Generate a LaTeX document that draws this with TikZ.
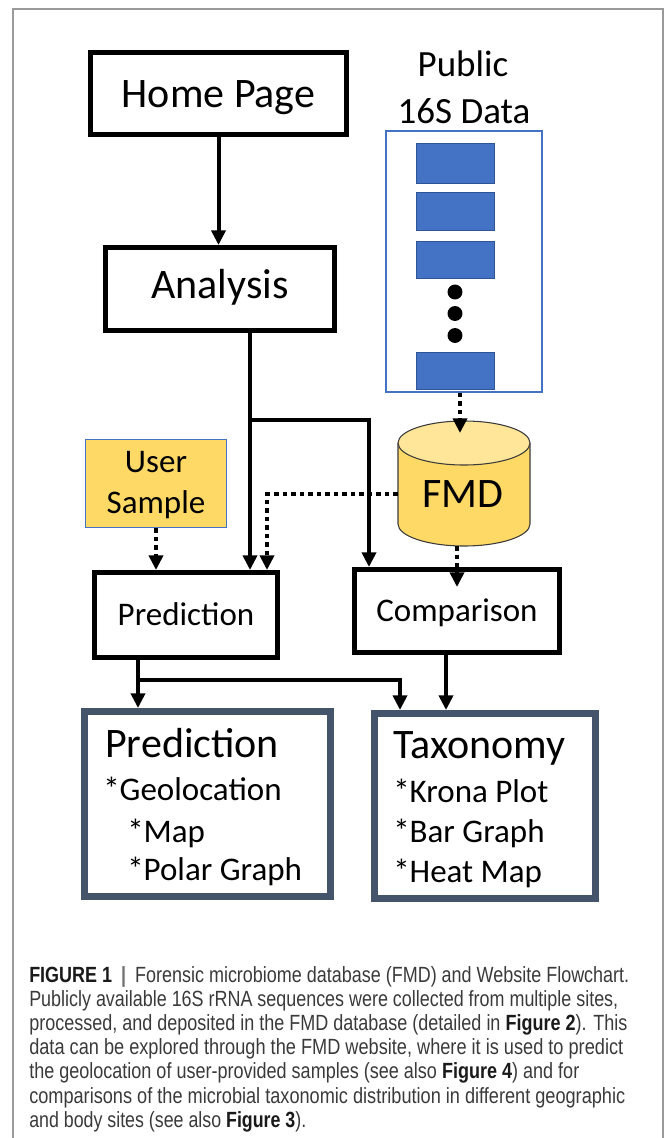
\documentclass[tikz,border=0pt]{standalone}
\usepackage{fontspec}
\setmainfont{Carlito}
\newfontfamily\capfont{Liberation Sans}
\usepackage{graphicx}
\usetikzlibrary{arrows.meta}
\definecolor{bluef}{HTML}{4472C4}
\definecolor{bluedk}{HTML}{2F5597}
\definecolor{yel}{HTML}{FFD966}
\definecolor{yellt}{HTML}{FFE699}
\definecolor{slate}{HTML}{44546A}
\definecolor{framegray}{HTML}{9A9A9A}
\definecolor{captxt}{HTML}{3A3A3A}
\definecolor{capbold}{HTML}{1A1A1A}
\definecolor{cylline}{HTML}{3B3B3B}
\tikzset{
  bigf/.style={font=\fontsize{31.5}{36}\selectfont},
  midf/.style={font=\fontsize{24.75}{30}\selectfont},
  blackbox/.style={draw=black, line width=3.75pt, inner sep=0pt, fill=white},
  slatebox/.style={draw=slate, line width=5.25pt, inner sep=0pt, fill=white},
  txt/.style={inner sep=0pt, anchor=base west, midf},
  arr/.style={line width=3pt, draw=black, -{Triangle[length=11pt,width=10.5pt]}},
  dotarr/.style={arr, dash pattern=on 3.4pt off 3pt},
  captionline/.style={inner sep=0pt, anchor=base west, text=captxt,
    font=\capfont\fontsize{16.5}{19}\selectfont},
  bluerect/.style={fill=bluef, draw=bluedk, line width=0.6pt},
  bigdot/.style={fill=black}
}
\newcommand{\fb}[1]{{\color{capbold}\bfseries #1}}
\begin{document}
\begin{tikzpicture}[x=0.75pt,y=-0.75pt]
\useasboundingbox (0,0) rectangle (669,1138);
% outer frame
\draw[framegray, line width=1.1pt] (13,1138) -- (13,9) -- (663,9) -- (663,1138);

% helper coordinates
\coordinate (X250) at (250,0);
\coordinate (X267) at (267,0);
\coordinate (X369) at (369,0);
\coordinate (X460) at (460,0);
\coordinate (X138) at (138,0);
\coordinate (X400) at (400,0);
\coordinate (X446) at (446,0);

% main boxes
\node[blackbox, bigf, minimum width=192pt, minimum height=61.5pt,
      text height=20.3pt, text depth=0pt] (home) at (218.5,93.5) {Home Page};
\node[blackbox, bigf, minimum width=171.75pt, minimum height=62.25pt,
      text height=20.3pt, text depth=6.75pt] (analysis) at (220,289) {Analysis};
\node[blackbox, midf, minimum width=137.25pt, minimum height=63.75pt,
      text height=15.9pt, text depth=0pt] (pred) at (186,615) {Prediction};
\node[blackbox, midf, minimum width=153.75pt, minimum height=62.25pt,
      text height=15.9pt, text depth=0pt] (comp) at (457,611) {Comparison};

% user sample
\node[draw=bluef, fill=yel, line width=1.1pt, minimum width=105.75pt,
      minimum height=66pt, inner sep=0pt] (user) at (156,483.5) {};
\node[midf, inner sep=0pt, anchor=base] (userT1) at (156,472) {User};
\node[midf, inner sep=0pt, anchor=base] (userT2) at (156,513) {Sample};

% public data
\node[font=\fontsize{27.75}{32}\selectfont, inner sep=0pt, anchor=base] (pubT1) at (463,77) {Public};
\node[font=\fontsize{27.75}{32}\selectfont, inner sep=0pt, anchor=base] (pubT2) at (464,123) {16S Data};
\node[draw=bluef, line width=1.1pt, minimum width=117pt, minimum height=195.75pt,
      inner sep=0pt] (pubbox) at (464,261.5) {};
\filldraw[bluerect] (416,143) rectangle (494,183);
\filldraw[bluerect] (416,192) rectangle (494,230);
\filldraw[bluerect] (416,241) rectangle (494,278);
\filldraw[bluerect] (416,352) rectangle (494,389);
\fill[bigdot] (455,292) circle[radius=5.6pt];
\fill[bigdot] (455,313.5) circle[radius=5.6pt];
\fill[bigdot] (455,335.5) circle[radius=5.6pt];

% FMD cylinder
\fill[yel] (398,443) -- (398,524) arc[start angle=180, end angle=360, x radius=49.5pt, y radius=16.5pt] -- (530,443) -- cycle;
\draw[cylline, line width=0.8pt] (398,443) -- (398,524) arc[start angle=180, end angle=360, x radius=49.5pt, y radius=16.5pt] -- (530,443);
\filldraw[fill=yellt, draw=cylline, line width=0.8pt] (464,443) ellipse[x radius=49.5pt, y radius=16.5pt];
\node[bigf, inner sep=0pt, text height=20.3pt, text depth=0pt] (fmd) at (463,493.5) {FMD};
\coordinate (fmdW) at (398,494);
\coordinate (fmdTop) at (460,433);
\coordinate (fmdBot) at (457,546);
\coordinate (compIn) at (457,587);

% result boxes
\node[slatebox, minimum width=184.5pt, minimum height=138.75pt] (predbig) at (207.5,804) {};
\node[slatebox, minimum width=165.75pt, minimum height=138.75pt] (taxo) at (485,806) {};
\node[txt, bigf] (pbT) at (105,757) {Prediction};
\node[txt] (pb1) at (103,800) {*Geolocation};
\node[txt] (pb2) at (127,842) {*Map};
\node[txt] (pb3) at (127,880) {*Polar Graph};
\node[txt, bigf] (txT) at (393,758) {Taxonomy};
\node[txt] (tx1) at (393,802) {*Krona Plot};
\node[txt] (tx2) at (393,842) {*Bar Graph};
\node[txt] (tx3) at (393,882) {*Heat Map};

% connectors
\draw[arr] (home.south) -- (home.south |- analysis.north);
\draw[arr] (analysis.south -| X250) -- (pred.north -| X250);
\coordinate (br1) at (250,420);
\draw[arr] (br1) -| (comp.north -| X369);
\draw[dotarr] (user.south) -- (user.south |- pred.north);
\draw[dotarr] (fmdW) -| (pred.north -| X267);
\draw[dotarr] (pubbox.south -| X460) -- (fmdTop);
\draw[dotarr] (fmdBot) -- (compIn);
\draw[arr] (pred.south -| X138) -- (predbig.north -| X138);
\coordinate (br2) at (138,680);
\draw[arr] (br2) -| (taxo.north -| X400);
\draw[arr] (comp.south -| X446) -- (taxo.north -| X446);

% caption
\node[captionline] (c1) at (29,982) {\resizebox{450pt}{\height}{\fb{FIGURE 1}\enspace{\color[HTML]{707070}\bfseries|}\enspace Forensic microbiome database (FMD) and Website Flowchart.}};
\node[captionline] (c2) at (29,1006.2) {\resizebox{441.75pt}{\height}{Publicly available 16S rRNA sequences were collected from multiple sites,}};
\node[captionline] (c3) at (29,1030.4) {\resizebox{448.5pt}{\height}{processed, and deposited in the FMD database (detailed in \fb{Figure 2}). This}};
\node[captionline] (c4) at (29,1054.6) {\resizebox{445.5pt}{\height}{data can be explored through the FMD website, where it is used to predict}};
\node[captionline] (c5) at (29,1078.8) {\resizebox{412.5pt}{\height}{the geolocation of user-provided samples (see also \fb{Figure 4}) and for}};
\node[captionline] (c6) at (29,1103) {\resizebox{447pt}{\height}{comparisons of the microbial taxonomic distribution in different geographic}};
\node[captionline] (c7) at (29,1127.2) {\resizebox{207.75pt}{\height}{and body sites (see also \fb{Figure 3}).}};
\end{tikzpicture}
\end{document}
